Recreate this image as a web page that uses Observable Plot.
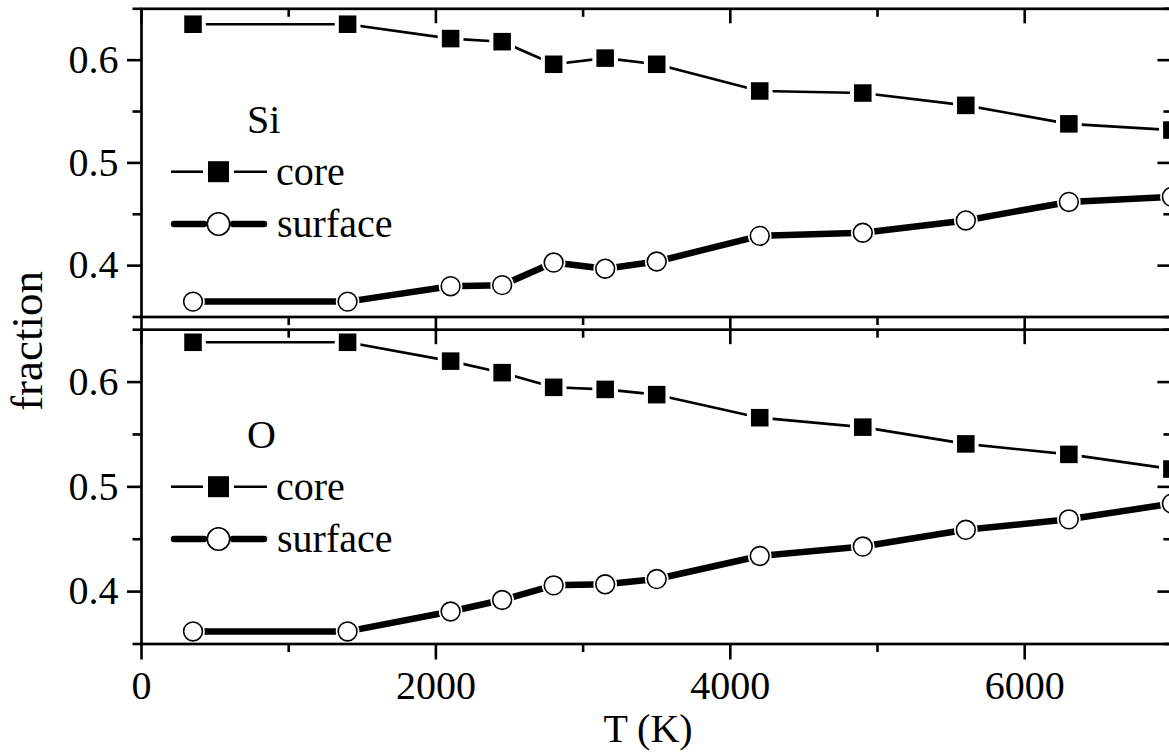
<!DOCTYPE html>
<html>
<head>
<meta charset="utf-8">
<script src="https://cdn.jsdelivr.net/npm/d3@7"></script>
<script src="https://cdn.jsdelivr.net/npm/@observablehq/plot@0.6"></script>
<style>
  html, body { margin: 0; padding: 0; background: #fff; overflow: hidden; }
  #chart { position: relative; width: 1169px; height: 754px; overflow: hidden;
           font-family: "Liberation Serif", "Times New Roman", serif; }
  #chart svg { position: absolute; left: 0; top: 0; }
</style>
</head>
<body>
<div id="chart"></div>
<script>
// Temperatures of the simulation runs (K)
const temperatures = [350, 1400, 2100, 2450, 2800, 3150, 3500, 4200, 4900, 5600, 6300, 7000];

// Si atoms: fraction in the core and at the surface
const siCore    = [0.635, 0.635, 0.621, 0.618, 0.596, 0.602, 0.596, 0.570, 0.568, 0.556, 0.538, 0.532];
const siSurface = [0.365, 0.365, 0.380, 0.381, 0.403, 0.397, 0.404, 0.429, 0.432, 0.444, 0.462, 0.467];

// O atoms: fraction in the core and at the surface
const oCore     = [0.638, 0.638, 0.620, 0.609, 0.595, 0.593, 0.588, 0.566, 0.557, 0.541, 0.531, 0.517];
const oSurface  = [0.362, 0.362, 0.381, 0.392, 0.406, 0.407, 0.412, 0.434, 0.443, 0.459, 0.469, 0.484];

// Axis ticks
const xMajor = [0, 2000, 4000, 6000];
const xMinor = [1000, 3000, 5000, 7000];
const yMajor = [0.4, 0.5, 0.6];
const yMinor = [0.35, 0.45, 0.55, 0.65];

const FONT = '"Liberation Serif", "Times New Roman", serif';
const W = 1169, H = 754;
const left = 141, right = 1171.4;   // the right edge of the frame sits just past the page
const plotW = right - left;
const LW = 2.6;     // frame / tick stroke

function panel({core, surface, top, bottom, xLabels}) {
  const rows = temperatures.map((T, i) => ({T, core: core[i], surface: surface[i]}));
  const plotH = bottom - top;
  const marks = [
    // data: thin core line, thick surface line
    Plot.line(rows, {x: "T", y: "core", stroke: "black", strokeWidth: 2.6}),
    Plot.line(rows, {x: "T", y: "surface", stroke: "black", strokeWidth: 6.5, strokeLinecap: "round", strokeLinejoin: "round"}),
    // white halos leave a small gap between the lines and the symbols
    Plot.dot(rows, {x: "T", y: "core", symbol: "square", r: 14.5, fill: "white"}),
    Plot.dot(rows, {x: "T", y: "surface", r: 11.8, fill: "white"}),
    Plot.dot(rows, {x: "T", y: "core", symbol: "square", r: 9.9, fill: "black"}),
    Plot.dot(rows, {x: "T", y: "surface", r: 9.4, fill: "white", stroke: "black", strokeWidth: 1.6}),

    // left axis: labelled major ticks pointing out, minor ticks
    Plot.axisY(yMajor, {anchor: "left", tickSize: 14, tickPadding: 9, tickFormat: ".1f",
                        strokeWidth: LW, fontSize: 40, label: null}),
    Plot.tickY(yMinor, {y: d => d, insetLeft: -8.5, insetRight: plotW, strokeWidth: LW}),
    // right edge: ticks pointing into the frame
    Plot.tickY(yMajor, {y: d => d, insetLeft: plotW - 14, strokeWidth: LW}),
    Plot.tickY(yMinor, {y: d => d, insetLeft: plotW - 8, strokeWidth: LW}),

    // top edge: ticks pointing down into the frame
    Plot.tickX(xMajor, {x: d => d, insetBottom: plotH - 15, strokeWidth: LW}),
    Plot.tickX(xMinor, {x: d => d, insetBottom: plotH - 8.5, strokeWidth: LW}),
    // bottom edge: ticks pointing down out of the frame
    Plot.tickX(xMinor, {x: d => d, insetTop: plotH, insetBottom: -8.5, strokeWidth: LW}),

    Plot.frame({stroke: "black", strokeWidth: 2.7})
  ];
  if (xLabels) {
    marks.push(Plot.axisX(xMajor, {anchor: "bottom", tickSize: 16, tickPadding: 11, tickFormat: d3.format("d"),
                                   strokeWidth: LW, fontSize: 40, label: null}));
  } else {
    marks.push(Plot.tickX(xMajor, {x: d => d, insetTop: plotH, insetBottom: -15, strokeWidth: LW}));
  }
  return Plot.plot({
    width: W, height: H,
    marginLeft: left, marginRight: W - right,
    marginTop: top, marginBottom: H - bottom,
    style: {background: "transparent", overflow: "visible",
            fontFamily: FONT, fontSize: "40px", color: "black"},
    x: {domain: [0, 7000], axis: null},
    y: {domain: [0.35, 0.65], axis: null},
    marks
  });
}

const chart = document.getElementById("chart");
chart.append(panel({core: siCore, surface: siSurface, top: 8.3, bottom: 316.5, xLabels: false}));
chart.append(panel({core: oCore, surface: oSurface, top: 329.2, bottom: 643.5, xLabels: true}));

// Legends, panel labels and axis titles
const svg = d3.select(chart).append("svg")
  .attr("width", 1169).attr("height", 754)
  .style("font-family", FONT).style("overflow", "visible");

function legend(element, y0) {
  const g = svg.append("g").attr("transform", `translate(0,${y0})`);
  g.append("text").attr("x", 247).attr("y", 0).attr("font-size", 40).text(element);
  // core entry
  const yc = 38.7;
  g.append("line").attr("x1", 171).attr("x2", 203).attr("y1", yc).attr("y2", yc)
    .attr("stroke", "black").attr("stroke-width", 2.6);
  g.append("line").attr("x1", 234).attr("x2", 267).attr("y1", yc).attr("y2", yc)
    .attr("stroke", "black").attr("stroke-width", 2.6);
  g.append("rect").attr("x", 208).attr("y", yc - 10.5).attr("width", 21).attr("height", 21).attr("fill", "black");
  g.append("text").attr("x", 276).attr("y", 52).attr("font-size", 40).text("core");
  // surface entry
  const ys = 91;
  g.append("line").attr("x1", 174).attr("x2", 204).attr("y1", ys).attr("y2", ys)
    .attr("stroke", "black").attr("stroke-width", 6.5).attr("stroke-linecap", "round");
  g.append("line").attr("x1", 233).attr("x2", 264).attr("y1", ys).attr("y2", ys)
    .attr("stroke", "black").attr("stroke-width", 6.5).attr("stroke-linecap", "round");
  g.append("circle").attr("cx", 218.5).attr("cy", ys).attr("r", 11.2)
    .attr("fill", "white").attr("stroke", "black").attr("stroke-width", 1.6);
  g.append("text").attr("x", 277).attr("y", 104).attr("font-size", 40).text("surface");
}
legend("Si", 133);
legend("O", 448);

svg.append("text")
  .attr("transform", "translate(42,341) rotate(-90)")
  .attr("text-anchor", "middle").attr("font-size", 45).text("fraction");
svg.append("text")
  .attr("x", 648).attr("y", 742)
  .attr("text-anchor", "middle").attr("font-size", 40).text("T (K)");
</script>
</body>
</html>
